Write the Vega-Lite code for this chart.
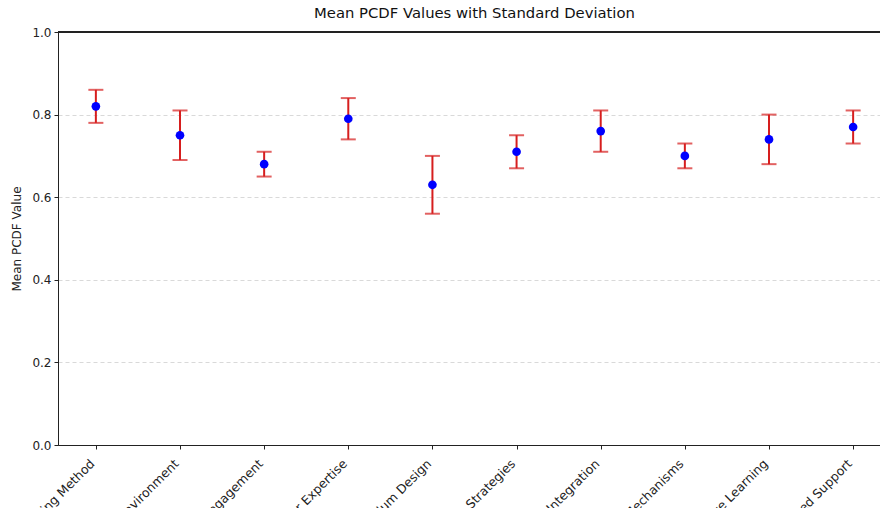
{
  "$schema": "https://vega.github.io/schema/vega-lite/v6.json",
  "autosize": {"type": "none"},
  "padding": {"left": 58, "top": 32, "right": 0, "bottom": 63},
  "width": 833,
  "height": 413,
  "title": {
    "text": "Mean PCDF Values with Standard Deviation",
    "font": "DejaVu Sans",
    "fontSize": 14.8,
    "fontWeight": "normal",
    "color": "#111111",
    "anchor": "middle",
    "offset": 5
  },
  "config": {
    "font": "DejaVu Sans",
    "view": {"stroke": "#222222", "strokeWidth": 1}
  },
  "data": {
    "values": [
      {"category": "Teaching Method", "mean": 0.82, "std": 0.04},
      {"category": "Learning Environment", "mean": 0.75, "std": 0.06},
      {"category": "Student Engagement", "mean": 0.68, "std": 0.03},
      {"category": "Teacher Expertise", "mean": 0.79, "std": 0.05},
      {"category": "Curriculum Design", "mean": 0.63, "std": 0.07},
      {"category": "Assessment Strategies", "mean": 0.71, "std": 0.04},
      {"category": "Technology Integration", "mean": 0.76, "std": 0.05},
      {"category": "Feedback Mechanisms", "mean": 0.70, "std": 0.03},
      {"category": "Collaborative Learning", "mean": 0.74, "std": 0.06},
      {"category": "Personalized Support", "mean": 0.77, "std": 0.04}
    ]
  },
  "layer": [
    {
      "mark": {
        "type": "errorbar",
        "color": "#d61e1e",
        "thickness": 2,
        "ticks": {"size": 15, "thickness": 2, "color": "#d61e1e"},
        "rule": {"strokeWidth": 2, "color": "#d61e1e"}
      },
      "encoding": {
        "x": {
          "field": "category",
          "type": "nominal",
          "sort": null,
          "scale": {"type": "point", "padding": 0.45},
          "axis": {
            "title": null,
            "labelAngle": -45,
            "labelAlign": "right",
            "labelBaseline": "top",
            "labelFontSize": 12.5,
            "labelColor": "#222222",
            "labelPadding": 8,
            "labelOffset": -8,
            "labelOverlap": false,
            "labelLimit": 0,
            "tickColor": "#222222",
            "tickSize": 4,
            "domainColor": "#222222",
            "grid": false
          }
        },
        "y": {
          "field": "mean",
          "type": "quantitative",
          "scale": {"domain": [0, 1], "nice": false},
          "axis": {
            "title": "Mean PCDF Value",
            "titleFont": "DejaVu Sans",
            "titleFontSize": 12,
            "titleFontWeight": "normal",
            "titleColor": "#222222",
            "titlePadding": 8,
            "values": [0, 0.2, 0.4, 0.6, 0.8, 1.0],
            "format": ".1f",
            "labelFontSize": 12,
            "labelColor": "#222222",
            "labelPadding": 3,
            "tickColor": "#222222",
            "tickSize": 4,
            "domainColor": "#222222",
            "grid": true,
            "gridColor": "#cfcfcf",
            "gridDash": [4, 3],
            "gridWidth": 0.8
          }
        },
        "yError": {"field": "std"}
      }
    },
    {
      "mark": {"type": "rule", "color": "#222222", "strokeWidth": 1},
      "encoding": {"y": {"datum": 1}}
    },
    {
      "mark": {"type": "point", "filled": true, "color": "#0000ff", "opacity": 1, "size": 75},
      "encoding": {
        "x": {"field": "category", "type": "nominal", "sort": null},
        "y": {"field": "mean", "type": "quantitative"}
      }
    }
  ]
}
